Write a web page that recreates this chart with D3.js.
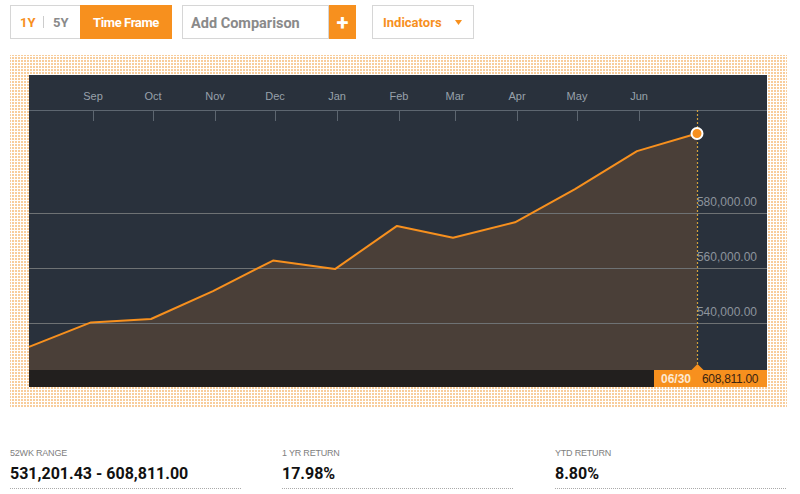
<!DOCTYPE html>
<html><head><meta charset="utf-8">
<script src="https://cdn.jsdelivr.net/npm/d3@7"></script>
<style>
html,body{margin:0;padding:0;background:#fff;}
svg{display:block;font-family:"Liberation Sans",Arial,sans-serif;}
</style></head>
<body>
<svg id="c" width="800" height="494"></svg>
<script>
// ---- data ----
const dates = ["2016-07-31","2016-08-31","2016-09-30","2016-10-31","2016-11-30","2016-12-31",
  "2017-01-31","2017-02-28","2017-03-31","2017-04-30","2017-05-31","2017-06-30"];
const values = [531201.43, 540100, 541350, 551500, 562600, 559500, 575200, 570900, 576500, 588600, 602400, 608811.00];
const monthTicks = ["2016-09-01","2016-10-01","2016-11-01","2016-12-01","2017-01-01","2017-02-01",
  "2017-03-01","2017-04-01","2017-05-01","2017-06-01"];
const monthLabels = ["Sep","Oct","Nov","Dec","Jan","Feb","Mar","Apr","May","Jun"];
const yTicks = [540000, 560000, 580000];
const lastLabel = "06/30";
const statLabels = ["52WK RANGE","1 YR RETURN","YTD RETURN"];
const statValues = ["531,201.43 - 608,811.00","17.98%","8.80%"];

const parse = d3.timeParse("%Y-%m-%d");
const pts = dates.map((d,i)=>({date:parse(d), v:values[i]}));

const svg = d3.select("#c");
const orange = "#f7901e";

// ---- pattern background ----
const defs = svg.append("defs");
const pat = defs.append("pattern").attr("id","dots").attr("width",3).attr("height",3).attr("patternUnits","userSpaceOnUse");
pat.append("rect").attr("width",3).attr("height",3).attr("fill","#fff");
pat.append("rect").attr("width",2).attr("height",2).attr("fill","#f8cd9c");
svg.append("rect").attr("x",10).attr("y",55).attr("width",777).attr("height",352).attr("fill","url(#dots)");

// ---- panel ----
const L=29, R=767, T=75, B=387, axisY=110, plotB=370;
svg.append("rect").attr("x",L).attr("y",T).attr("width",R-L).attr("height",B-T).attr("fill","#29313c");
svg.append("rect").attr("x",L).attr("y",plotB).attr("width",R-L).attr("height",B-plotB).attr("fill","#221f1e");

const x = d3.scaleTime().domain([pts[0].date, pts[pts.length-1].date]).range([L, 697]);
const y = d3.scaleLinear().domain([522800, 617350]).range([plotB, axisY]);

// area
const area = d3.area().x(d=>x(d.date)).y0(plotB).y1(d=>y(d.v));
svg.append("path").datum(pts).attr("d",area).attr("fill","#4a3f38");

// gridlines
svg.append("g").selectAll("line").data(yTicks).join("line")
  .attr("x1",L).attr("x2",R).attr("y1",d=>Math.round(y(d))+0.5).attr("y2",d=>Math.round(y(d))+0.5)
  .attr("stroke","#6e7274").attr("stroke-width",1.2);
svg.append("g").selectAll("text").data(yTicks).join("text")
  .attr("x",757).attr("y",d=>y(d)-7).attr("text-anchor","end")
  .attr("font-size",12).attr("fill","#8d949c")
  .text(d=>d3.format(",.2f")(d));

// top axis
svg.append("line").attr("x1",L).attr("x2",R).attr("y1",axisY+0.5).attr("y2",axisY+0.5).attr("stroke","#5d6670").attr("stroke-width",1);
const tickDates = monthTicks.map(parse);
svg.append("g").selectAll("line").data(tickDates).join("line")
  .attr("x1",d=>Math.round(x(d))+0.5).attr("x2",d=>Math.round(x(d))+0.5).attr("y1",axisY).attr("y2",axisY+11)
  .attr("stroke","#5d6670");
svg.append("g").selectAll("text").data(tickDates).join("text")
  .attr("x",d=>x(d)).attr("y",100).attr("text-anchor","middle")
  .attr("font-size",11).attr("fill","#98a1ab")
  .text((d,i)=>monthLabels[i]);

// line
const line = d3.line().x(d=>x(d.date)).y(d=>y(d.v));
svg.append("path").datum(pts).attr("d",line).attr("fill","none").attr("stroke",orange).attr("stroke-width",2).attr("stroke-linejoin","round");

// crosshair
const last = pts[pts.length-1];
const lx = Math.round(x(last.date))+0.5;
svg.append("line").attr("x1",lx).attr("x2",lx).attr("y1",axisY).attr("y2",plotB)
  .attr("stroke","#d3a03c").attr("stroke-width",1.2).attr("stroke-dasharray","2,2");
svg.append("circle").attr("cx",x(last.date)).attr("cy",y(last.v)).attr("r",5.5)
  .attr("fill",orange).attr("stroke","#fff").attr("stroke-width",2);

// value tag
svg.append("rect").attr("x",654).attr("y",plotB).attr("width",R-654).attr("height",B-plotB).attr("fill",orange);
svg.append("path").attr("d",`M${lx-6},${plotB} L${lx},${plotB-6} L${lx+6},${plotB} Z`).attr("fill",orange);
svg.append("text").attr("x",661).attr("y",383).attr("font-size",12).attr("font-weight","bold").attr("fill","#fde9d3").text(lastLabel);
svg.append("text").attr("x",702).attr("y",383).attr("font-size",12).attr("fill","#3b2410").attr("letter-spacing","-0.3")
  .text(d3.format(",.2f")(last.v));

// ---- top controls ----
const ctl = svg.append("g").attr("font-family","Roboto, 'Liberation Sans', sans-serif").attr("font-weight","bold");
ctl.append("rect").attr("x",10.5).attr("y",5.5).attr("width",161).attr("height",33).attr("fill","#fff").attr("stroke","#d6d6d6");
ctl.append("text").attr("x",20).attr("y",27).attr("font-size",13).attr("fill",orange).text("1Y");
ctl.append("line").attr("x1",43.5).attr("x2",43.5).attr("y1",16).attr("y2",28).attr("stroke","#ccc");
ctl.append("text").attr("x",53).attr("y",27).attr("font-size",13).attr("fill","#8a8a8a").text("5Y");
ctl.append("rect").attr("x",80).attr("y",5).attr("width",92).attr("height",34).attr("fill",orange);
ctl.append("text").attr("x",126).attr("y",27).attr("text-anchor","middle").attr("font-size",13).attr("fill","#fff").attr("letter-spacing","-0.4").text("Time Frame");

ctl.append("rect").attr("x",182.5).attr("y",5.5).attr("width",146).attr("height",33).attr("fill","#fff").attr("stroke","#d6d6d6");
ctl.append("text").attr("x",191).attr("y",28).attr("font-size",14.5).attr("fill","#8a8a8a").text("Add Comparison");
ctl.append("rect").attr("x",329).attr("y",5).attr("width",27).attr("height",34).attr("fill",orange);
ctl.append("text").attr("x",342.5).attr("y",30).attr("text-anchor","middle").attr("font-size",22).attr("fill","#fff").text("+");

ctl.append("rect").attr("x",372.5).attr("y",5.5).attr("width",101).attr("height",33).attr("fill","#fff").attr("stroke","#d6d6d6");
ctl.append("text").attr("x",383).attr("y",27).attr("font-size",13).attr("fill",orange).text("Indicators");
ctl.append("path").attr("d","M455,20 L462,20 L458.5,25 Z").attr("fill",orange);

// ---- stats ----
const colX = [10, 282, 555];
const stats = svg.append("g");
stats.selectAll("text.l").data(statLabels).join("text").attr("class","l")
  .attr("x",(d,i)=>colX[i]).attr("y",456).attr("font-size",9).attr("fill","#808080").attr("letter-spacing","-0.2").text(d=>d);
stats.selectAll("text.v").data(statValues).join("text").attr("class","v")
  .attr("x",(d,i)=>colX[i]).attr("y",479).attr("font-size",16).attr("font-weight","bold").attr("fill","#111")
  .attr("font-family","Roboto, 'Liberation Sans', sans-serif").text(d=>d);
stats.selectAll("line").data(colX).join("line")
  .attr("x1",d=>d).attr("x2",d=>d+232).attr("y1",488.5).attr("y2",488.5)
  .attr("stroke","#aaa").attr("stroke-dasharray","1,1");
</script>
</body></html>
